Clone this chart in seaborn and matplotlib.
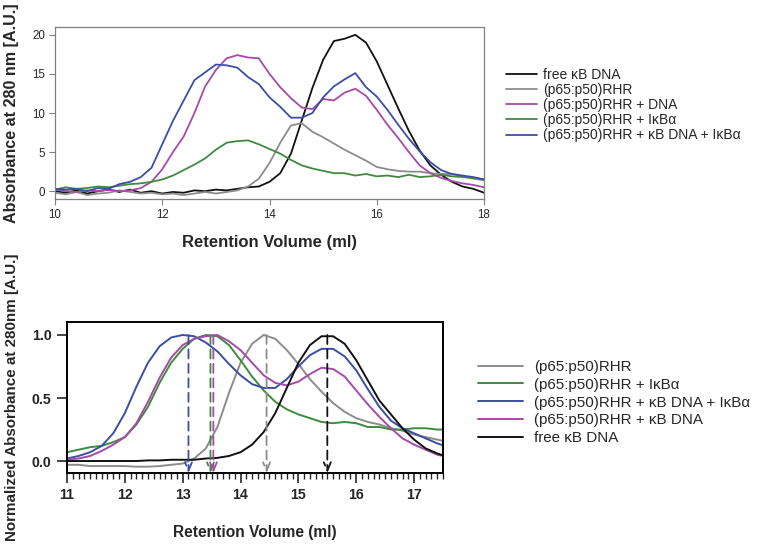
import numpy as np
import pandas as pd
import matplotlib.pyplot as plt
import seaborn as sns
from matplotlib.ticker import MultipleLocator, FormatStrFormatter

# ---------------- top panel: raw SEC traces, A280 ----------------
top_vol = np.round(np.arange(10.0, 18.01, 0.2), 1)  # sampling positions (ml)

top_free_dna = [0.0, -0.2, 0.1, -0.3, 0.0, 0.2, -0.1, 0.2, -0.2, 0.0,
                -0.3, -0.1, -0.2, 0.1, 0.0, 0.2, 0.1, 0.3, 0.5, 0.6,
                1.2, 2.3, 4.8, 9.0, 13.2, 16.8, 19.2, 19.5, 20.0, 19.0,
                16.6, 13.6, 10.6, 7.7, 5.2, 3.3, 2.1, 1.2, 0.6, 0.3, -0.2]
top_rhr = [-0.2, -0.4, -0.1, -0.5, -0.3, -0.2, 0.1, -0.1, -0.3, -0.2,
           -0.4, -0.3, -0.5, -0.3, -0.1, -0.3, -0.1, 0.1, 0.6, 1.6,
           3.6, 6.2, 8.4, 8.7, 7.6, 6.9, 6.1, 5.3, 4.6, 3.9,
           3.1, 2.8, 2.6, 2.5, 2.5, 2.3, 2.2, 2.2, 1.9, 1.6, 1.4]
top_rhr_dna = [0.2, 0.0, -0.1, 0.1, 0.0, 0.2, 0.0, 0.1, 0.4, 1.2,
               2.8, 5.0, 7.0, 10.0, 13.4, 15.5, 17.0, 17.4, 17.1, 17.0,
               15.0, 13.3, 11.9, 10.7, 10.5, 11.8, 11.6, 12.6, 13.1, 12.2,
               10.4, 8.5, 6.8, 5.0, 3.3, 2.3, 1.7, 1.3, 1.0, 0.8, 0.5]
top_rhr_ikba = [0.2, 0.5, 0.3, 0.4, 0.6, 0.5, 0.7, 0.9, 1.0, 1.2,
                1.5, 2.0, 2.7, 3.4, 4.2, 5.3, 6.2, 6.4, 6.5, 6.0,
                5.4, 4.8, 4.0, 3.3, 2.9, 2.6, 2.3, 2.3, 2.0, 2.2,
                1.9, 2.0, 1.8, 2.1, 1.8, 1.9, 2.1, 1.9, 1.8, 1.7, 1.5]
top_rhr_dna_ikba = [0.3, 0.2, 0.3, 0.0, 0.4, 0.3, 0.9, 1.2, 1.8, 3.0,
                    6.0, 9.0, 11.6, 14.2, 15.2, 16.2, 16.1, 15.8, 14.6, 13.7,
                    12.0, 10.8, 9.4, 9.4, 10.0, 12.0, 13.4, 14.3, 15.1, 13.3,
                    12.1, 10.4, 8.5, 6.7, 5.1, 3.7, 2.7, 2.2, 2.0, 1.8, 1.5]

top_labels = ["free \u03baB DNA", "(p65:p50)RHR", "(p65:p50)RHR + DNA",
              "(p65:p50)RHR + I\u03baB\u03b1",
              "(p65:p50)RHR + \u03baB DNA + I\u03baB\u03b1"]
top_series = [top_free_dna, top_rhr, top_rhr_dna, top_rhr_ikba, top_rhr_dna_ikba]

# ---------------- bottom panel: normalized traces ----------------
bot_vol = np.round(np.arange(11.0, 17.61, 0.2), 1)

bot_rhr = [-0.03, -0.03, -0.04, -0.04, -0.04, -0.04, -0.045, -0.045, -0.04, -0.03,
           -0.02, 0.02, 0.10, 0.27, 0.54, 0.78, 0.93, 1.00, 0.97, 0.88,
           0.77, 0.65, 0.55, 0.46, 0.39, 0.34, 0.31, 0.29, 0.26, 0.24,
           0.21, 0.19, 0.17, 0.15]
bot_rhr_ikba = [0.07, 0.09, 0.11, 0.12, 0.15, 0.19, 0.29, 0.43, 0.62, 0.78,
                0.89, 0.97, 1.00, 0.99, 0.92, 0.80, 0.67, 0.56, 0.47, 0.41,
                0.37, 0.34, 0.31, 0.30, 0.31, 0.30, 0.27, 0.27, 0.25, 0.25,
                0.26, 0.26, 0.25, 0.25]
bot_rhr_dna_ikba = [0.02, 0.04, 0.07, 0.12, 0.22, 0.38, 0.59, 0.78, 0.91, 0.98,
                    1.00, 0.99, 0.94, 0.87, 0.77, 0.68, 0.61, 0.58, 0.58, 0.65,
                    0.75, 0.84, 0.89, 0.89, 0.83, 0.72, 0.57, 0.43, 0.32, 0.26,
                    0.22, 0.18, 0.14, 0.11]
bot_rhr_dna = [0.01, 0.02, 0.04, 0.08, 0.13, 0.19, 0.30, 0.47, 0.66, 0.82,
               0.92, 0.97, 0.99, 1.00, 0.95, 0.88, 0.78, 0.68, 0.62, 0.60,
               0.63, 0.69, 0.74, 0.73, 0.67, 0.56, 0.45, 0.35, 0.26, 0.18,
               0.13, 0.09, 0.05, 0.03]
bot_free_dna = [0.0, 0.0, 0.0, 0.0, 0.0, 0.0, 0.0, 0.005, 0.005, 0.01,
                0.01, 0.01, 0.02, 0.025, 0.04, 0.07, 0.13, 0.23, 0.38, 0.58,
                0.78, 0.92, 0.99, 0.99, 0.93, 0.80, 0.64, 0.48, 0.37, 0.26,
                0.17, 0.10, 0.06, 0.03]

bot_labels = ["(p65:p50)RHR", "(p65:p50)RHR + I\u03baB\u03b1",
              "(p65:p50)RHR + \u03baB DNA + I\u03baB\u03b1",
              "(p65:p50)RHR + \u03baB DNA", "free \u03baB DNA"]
bot_series = [bot_rhr, bot_rhr_ikba, bot_rhr_dna_ikba, bot_rhr_dna, bot_free_dna]

# peak positions marked with dashed arrows
peak_vol = [13.1, 13.48, 13.53, 14.45, 15.5]
peak_sample = ["(p65:p50)RHR + \u03baB DNA + I\u03baB\u03b1", "(p65:p50)RHR + I\u03baB\u03b1",
               "(p65:p50)RHR + \u03baB DNA", "(p65:p50)RHR", "free \u03baB DNA"]

# colours per sample
BLACK, GRAY, PURPLE, GREEN, BLUE = "#111111", "#8c8c8c", "#a64aa8", "#3f8a3f", "#3b4ea6"
top_pal = dict(zip(top_labels, [BLACK, GRAY, PURPLE, GREEN, BLUE]))
bot_pal = dict(zip(bot_labels, [GRAY, GREEN, BLUE, PURPLE, BLACK]))

# long tables for seaborn
df_top = pd.concat([pd.DataFrame({"vol": top_vol, "a280": s, "sample": lab})
                    for lab, s in zip(top_labels, top_series)], ignore_index=True)
df_bot = pd.concat([pd.DataFrame({"vol": bot_vol, "norm": s, "sample": lab})
                    for lab, s in zip(bot_labels, bot_series)], ignore_index=True)

sns.set_style("ticks")
plt.rcParams['font.family'] = ['Liberation Sans', 'DejaVu Sans']

W, H = 757, 544
fig = plt.figure(figsize=(W / 100, H / 100), dpi=100)
ax1 = fig.add_axes([55 / W, 1 - 199 / H, 429 / W, 172 / H])
ax2 = fig.add_axes([67 / W, 1 - 473 / H, 376 / W, 151 / H])

# ---- top
sns.lineplot(data=df_top, x="vol", y="a280", hue="sample", hue_order=top_labels,
             palette=top_pal, lw=1.3, ax=ax1, sort=True)
ax1.set_xlim(10, 18)
ax1.set_ylim(-1, 21)
ax1.set_xticks([10, 12, 14, 16, 18])
ax1.set_yticks([0, 5, 10, 15, 20])
for sp in ax1.spines.values():
    sp.set_color("#808080")
    sp.set_linewidth(0.9)
ax1.tick_params(direction="out", length=4, width=0.8, color="#808080",
                labelsize=8.3, pad=3)
ax1.set_xlabel("Retention Volume (ml)", fontsize=12, fontweight="bold", va="center")
ax1.xaxis.set_label_coords(0.5, (199 - 243) / 172)
ax1.set_ylabel("Absorbance at 280 nm [A.U.]", fontsize=11.6, fontweight="bold", va="center")
ax1.yaxis.set_label_coords((12 - 55) / 429, 0.5)
h, l = ax1.get_legend_handles_labels()
ax1.legend(h, l, loc="upper left", bbox_to_anchor=(506 / W, 1 - 68 / H),
           bbox_transform=fig.transFigure, frameon=False, fontsize=10,
           handlelength=2.2, handletextpad=0.45, labelspacing=0.08,
           borderpad=0, borderaxespad=0)

# ---- bottom
sns.lineplot(data=df_bot, x="vol", y="norm", hue="sample", hue_order=bot_labels,
             palette=bot_pal, lw=1.4, ax=ax2, sort=True)
ax2.set_xlim(11, 17.5)
ax2.set_ylim(-0.095, 1.103)
ax2.xaxis.set_major_locator(MultipleLocator(1))
ax2.xaxis.set_minor_locator(MultipleLocator(0.1))
ax2.set_yticks([0, 0.5, 1.0])
ax2.yaxis.set_major_formatter(FormatStrFormatter("%.1f"))
for sp in ax2.spines.values():
    sp.set_color("black")
    sp.set_linewidth(1.4)
ax2.tick_params(which="major", direction="out", length=7, width=1.2,
                labelsize=10.2, pad=4)
ax2.tick_params(which="minor", direction="out", length=4.5, width=1.0)
for t in ax2.get_xticklabels() + ax2.get_yticklabels():
    t.set_fontweight("bold")

for xv, s in zip(peak_vol, peak_sample):
    ax2.annotate("", xy=(xv, -0.095), xytext=(xv, 1.0),
                 arrowprops=dict(arrowstyle="->,head_length=0.6,head_width=0.25",
                                 color=bot_pal[s], lw=1.3, linestyle=(0, (5, 3)),
                                 shrinkA=0, shrinkB=0, mutation_scale=10))

ax2.set_xlabel("Retention Volume (ml)", fontsize=11.2, fontweight="bold", va="center")
ax2.xaxis.set_label_coords(0.5, (473 - 532) / 151)
ax2.set_ylabel("Normalized Absorbance at 280nm [A.U.]", fontsize=10.9,
               fontweight="bold", va="center")
ax2.yaxis.set_label_coords((12 - 67) / 376, 0.5)
h, l = ax2.get_legend_handles_labels()
ax2.legend(h, l, loc="upper left", bbox_to_anchor=(478 / W, 1 - 360 / H),
           bbox_transform=fig.transFigure, frameon=False, fontsize=10.9,
           handlelength=3.0, handletextpad=0.7, labelspacing=0.25,
           borderpad=0, borderaxespad=0)

fig.savefig("out.png", dpi=100)
